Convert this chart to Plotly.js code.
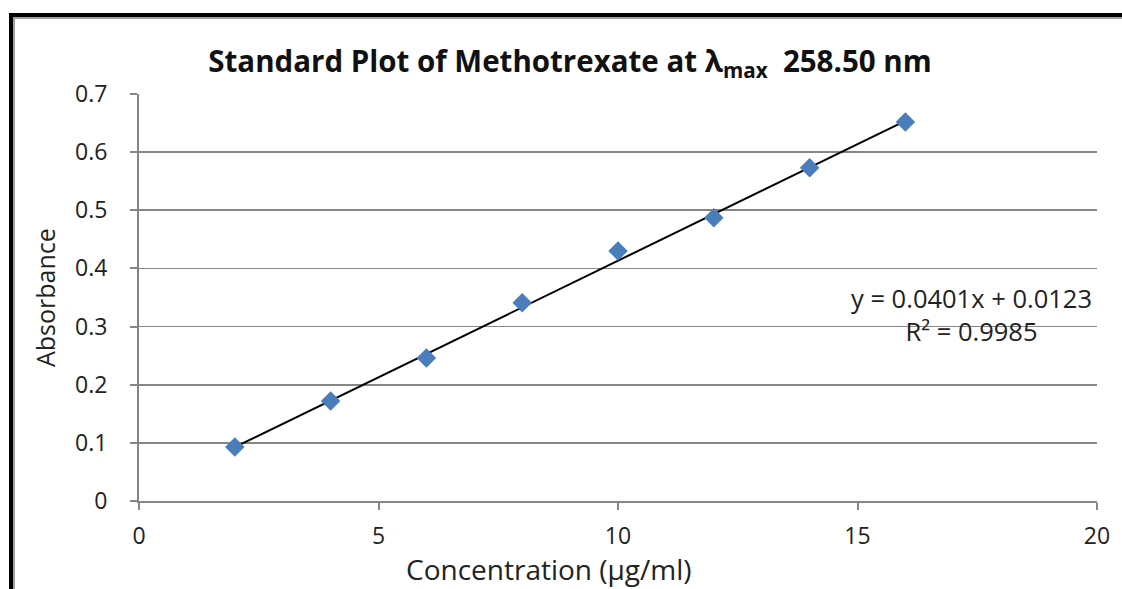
<!DOCTYPE html>
<html><head><meta charset="utf-8">
<script src="https://cdn.plot.ly/plotly-3.0.1.min.js"></script>
<style>
html,body{margin:0;padding:0;background:#fff;}
#wrap{position:relative;width:1122px;height:589px;overflow:hidden;}
#frame{position:absolute;left:9px;top:13px;width:1200px;height:700px;border-top:4px solid #000;border-left:4px solid #000;box-shadow:inset 2px 2px 0 #a0a0a0;pointer-events:none;z-index:5;}
#chart{position:absolute;left:0;top:0;width:1122px;height:589px;}
</style></head>
<body><div id="wrap"><div id="chart"></div><div id="frame"></div></div>
<script>
const concentration = [2, 4, 6, 8, 10, 12, 14, 16];
const absorbance = [0.093, 0.172, 0.246, 0.341, 0.430, 0.487, 0.573, 0.652];
const slope = 0.0401;
const intercept = 0.0123;
const equationText = "y = 0.0401x + 0.0123<br>R² = 0.9985";
const xTitle = 'Concentration (µg/ml)';
const yTitle = 'Absorbance';
const xTicks = [0, 5, 10, 15, 20];
const yTicks = [0, 0.1, 0.2, 0.3, 0.4, 0.5, 0.6, 0.7];

const xMin = Math.min(...concentration), xMax = Math.max(...concentration);
const trendX = [xMin, xMax];
const trendY = trendX.map(x => slope * x + intercept);

const font = "'Open Sans', sans-serif";
const data = [
  {x: trendX, y: trendY, mode: 'lines', line: {color: '#000', width: 2}, hoverinfo: 'skip'},
  {x: concentration, y: absorbance, mode: 'markers', marker: {symbol: 'diamond', size: 15, color: '#4a7ebb'}}
];
const layout = {
  width: 1122, height: 589,
  margin: {l: 139, r: 25, t: 94, b: 88},
  paper_bgcolor: '#fff', plot_bgcolor: '#fff',
  showlegend: false,
  font: {family: font, color: '#222', size: 22},
  title: {text: '<b>Standard Plot of Methotrexate at λ<sub>max</sub>  258.50 nm</b>', x: 0.508, xanchor: 'center', y: 0.895, yanchor: 'middle', font: {family: font, size: 29.5, color: '#111'}},
  xaxis: {
    range: [0, 20], tickvals: xTicks, ticktext: xTicks.map(String),
    showgrid: false, zeroline: false, showline: true, linecolor: '#868686', linewidth: 2,
    ticks: 'outside', ticklen: 7, tickwidth: 2, tickcolor: '#868686', ticklabelstandoff: 6,
    tickfont: {size: 23, color: '#222'}
  },
  yaxis: {
    range: [0, 0.7], tickvals: yTicks, ticktext: yTicks.map(v => v === 0 ? '0' : v.toFixed(1)),
    showgrid: true, gridcolor: '#868686', gridwidth: 1.6, zeroline: false,
    showline: true, linecolor: '#868686', linewidth: 2,
    ticks: 'outside', ticklen: 7, tickwidth: 2, tickcolor: '#868686', ticklabelstandoff: 18,
    tickfont: {size: 23, color: '#222'}
  },
  annotations: [
    {x: 17.39, y: 0.3216, xref: 'x', yref: 'y', text: equationText, showarrow: false,
     xanchor: 'center', yanchor: 'middle', align: 'center', font: {family: font, size: 25.5, color: '#222'}},
    {x: 549, y: 569, xref: 'paper', yref: 'paper', text: xTitle, showarrow: false,
     xanchor: 'center', yanchor: 'middle', font: {size: 28, color: '#222'}},
    {x: 45, y: 298, xref: 'paper', yref: 'paper', text: yTitle, textangle: -90, showarrow: false,
     xanchor: 'center', yanchor: 'middle', font: {size: 25, color: '#222'}}
  ]
};
// convert pixel-placed title annotations to paper coords
const pw = layout.width - layout.margin.l - layout.margin.r;
const ph = layout.height - layout.margin.t - layout.margin.b;
[1, 2].forEach(i => {
  const a = layout.annotations[i];
  a.x = (a.x - layout.margin.l) / pw;
  a.y = (layout.height - layout.margin.b - a.y) / ph;
});
Plotly.newPlot('chart', data, layout, {staticPlot: true});
</script></body></html>
